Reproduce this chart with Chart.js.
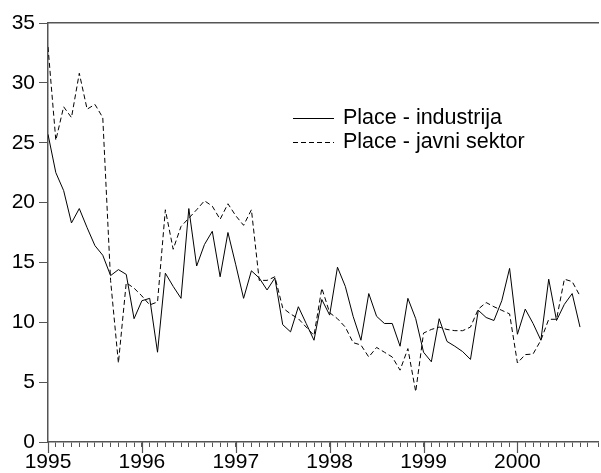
<!DOCTYPE html>
<html><head><meta charset="utf-8">
<script src="https://cdn.jsdelivr.net/npm/chart.js@4"></script>
<style>html,body{margin:0;padding:0;background:#fff;overflow:hidden}canvas{display:block}</style>
</head><body>
<canvas id="c" width="601" height="473"></canvas>
<script>
// Monthly data, Jan 1995 .. Sep 2000
const yearLabels = ['1995','1996','1997','1998','1999','2000'];
const seriesNames = ['Place - industrija', 'Place - javni sektor'];
const industrija = [
  25.7, 22.5, 21.0, 18.3, 19.5, 17.9, 16.4, 15.6, 13.9, 14.4, 14.0, 10.3,
  11.8, 12.0, 7.5, 14.1, 13.0, 12.0, 19.5, 14.7, 16.5, 17.6, 13.8, 17.5,
  14.8, 12.0, 14.3, 13.7, 12.7, 13.7, 9.8, 9.2, 11.3, 9.9, 8.5, 11.9,
  10.6, 14.6, 13.0, 10.5, 8.5, 12.4, 10.5, 9.9, 9.9, 8.0, 12.0, 10.3,
  7.5, 6.7, 10.3, 8.4, 8.0, 7.55, 6.9, 11.0, 10.4, 10.15, 11.8, 14.5,
  9.0, 11.1, 9.9, 8.5, 13.6, 10.15, 11.5, 12.4, 9.6
];
const javniSektor = [
  33.0, 25.2, 28.0, 27.1, 30.8, 27.8, 28.2, 27.1, 13.5, 6.6, 13.3, 12.85,
  12.2, 11.45, 11.7, 19.4, 16.1, 18.0, 18.7, 19.4, 20.15, 19.7, 18.6, 19.9,
  18.9, 18.1, 19.4, 13.5, 13.5, 13.8, 11.2, 10.7, 10.3, 9.6, 8.9, 12.85,
  10.8, 10.3, 9.6, 8.3, 8.1, 7.1, 7.9, 7.5, 7.1, 6.0, 7.8, 4.2,
  9.1, 9.4, 9.6, 9.4, 9.3, 9.3, 9.6, 11.1, 11.65, 11.3, 11.0, 10.7,
  6.6, 7.3, 7.35, 8.5, 10.25, 10.25, 13.6, 13.4, 12.2
];
const yMin = 0, yMax = 35, yStep = 5;

const AXIS = '#555';
const FONT = 'Arial, "Liberation Sans", Helvetica, sans-serif';
const X_MAX = 70.3;

const majorTicks = {
  id: 'majorTicks',
  afterDraw(chart) {
    const xs = chart.scales.x, ctx = chart.ctx, b = chart.chartArea.bottom;
    ctx.save();
    ctx.strokeStyle = AXIS; ctx.lineWidth = 1.2;
    yearLabels.forEach((l, k) => {
      const px = Math.round(xs.getPixelForValue(k * 12)) + 0.5;
      ctx.beginPath(); ctx.moveTo(px, b); ctx.lineTo(px, b + 11); ctx.stroke();
    });
    ctx.restore();
  }
};

const legendBox = {
  id: 'legendBox',
  afterDraw(chart) {
    const ctx = chart.ctx;
    ctx.save();
    chart.data.datasets.forEach((ds, i) => {
      const y = 118.5 + i * 24;
      ctx.strokeStyle = '#000'; ctx.lineWidth = 1;
      ctx.setLineDash(ds.borderDash || []);
      ctx.beginPath(); ctx.moveTo(293, y); ctx.lineTo(334, y); ctx.stroke();
      ctx.setLineDash([]);
      ctx.fillStyle = '#000';
      ctx.font = '21.5px ' + FONT;
      ctx.textBaseline = 'middle';
      ctx.fillText(ds.label, 343, y);
    });
    ctx.restore();
  }
};

new Chart(document.getElementById('c'), {
  type: 'line',
  data: {
    datasets: [
      { label: seriesNames[0], data: industrija.map((v, i) => ({x: i, y: v})),
        borderColor: '#000', borderWidth: 1, pointRadius: 0, tension: 0, fill: false },
      { label: seriesNames[1], data: javniSektor.map((v, i) => ({x: i, y: v})),
        borderColor: '#000', borderWidth: 1, borderDash: [5, 3], pointRadius: 0, tension: 0, fill: false }
    ]
  },
  options: {
    responsive: false,
    animation: false,
    layout: { padding: { top: 23, left: 0, right: 0, bottom: 0 } },
    plugins: { legend: { display: false }, tooltip: { enabled: false } },
    scales: {
      x: {
        type: 'linear', position: 'bottom', min: 0, max: X_MAX,
        afterFit(s) { s.height = 31; },
        grid: { display: true, drawOnChartArea: false, drawTicks: true, tickLength: 5, tickColor: AXIS, tickWidth: 1 },
        border: { display: true, color: AXIS, width: 1.5 },
        ticks: {
          stepSize: 1, autoSkip: false, maxRotation: 0, minRotation: 0, padding: 3,
          color: '#000', font: { family: FONT, size: 21 },
          callback: (v) => (Number.isInteger(v) && v % 12 === 0 && yearLabels[v / 12]) ? yearLabels[v / 12] : ''
        }
      },
      x2: {
        type: 'linear', position: 'top', min: 0, max: X_MAX,
        afterFit(s) { s.height = 0; },
        grid: { display: false },
        border: { display: true, color: AXIS, width: 1.5 },
        ticks: { display: false }
      },
      y: {
        type: 'linear', position: 'left', min: yMin, max: yMax,
        afterFit(s) { s.width = 48; },
        grid: { display: true, drawOnChartArea: false, drawTicks: true, tickLength: 9, tickColor: AXIS, tickWidth: 1 },
        border: { display: true, color: AXIS, width: 1.5 },
        ticks: { stepSize: yStep, padding: 4, color: '#000', font: { family: FONT, size: 21 } }
      }
    }
  },
  plugins: [majorTicks, legendBox]
});
</script>
</body></html>
